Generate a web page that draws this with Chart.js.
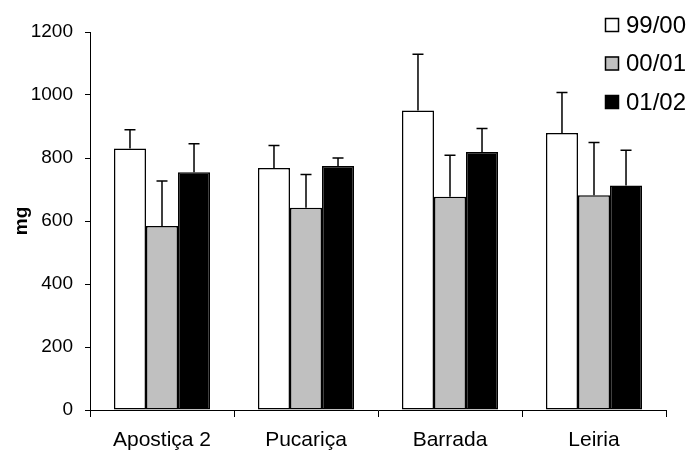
<!DOCTYPE html>
<html>
<head>
<meta charset="utf-8">
<script src="https://cdn.jsdelivr.net/npm/chart.js@4.4.1/dist/chart.umd.min.js"></script>
<style>
    html, body { margin: 0; padding: 0; background: #fff; }
    #wrap { width: 690px; height: 453px; position: relative; }
</style>
</head>
<body>
<div id="wrap"><canvas id="massChart"></canvas></div>
<script>
// Sites and seasons
const sites = ['Apostiça 2', 'Pucariça', 'Barrada', 'Leiria'];
const seasons = ['99/00', '00/01', '01/02'];

// Mean mass (mg) per site, one array per season
const mass9900 = [830, 768, 951, 879];
const mass0001 = [584, 642, 677, 682];
const mass0102 = [755, 775, 819, 713];

// Standard deviations (drawn as upper whiskers)
const sd9900 = [60, 72, 178, 129];
const sd0001 = [143, 106, 132, 167];
const sd0102 = [90, 25, 75, 112];

const yTicks = [0, 200, 400, 600, 800, 1000, 1200];

const FONT = "'Liberation Sans', Arial, sans-serif";
const fills = ['#ffffff', '#c0c0c0', '#000000'];

// Upper error whiskers with a small cap
const errorBars = {
    id: 'errorBars',
    afterDatasetsDraw(chart) {
        const ctx = chart.ctx;
        const yScale = chart.scales.y;
        ctx.save();
        ctx.strokeStyle = '#000';
        ctx.lineWidth = 1.5;
        chart.data.datasets.forEach((ds, di) => {
            const meta = chart.getDatasetMeta(di);
            meta.data.forEach((bar, i) => {
                const top = yScale.getPixelForValue(ds.data[i] + ds.sd[i]);
                ctx.beginPath();
                ctx.moveTo(bar.x, bar.y);
                ctx.lineTo(bar.x, top);
                ctx.moveTo(bar.x - 5.5, top);
                ctx.lineTo(bar.x + 5.5, top);
                ctx.stroke();
            });
        });
        ctx.restore();
    }
};

// Stacked legend in the top right corner
const cornerLegend = {
    id: 'cornerLegend',
    afterDraw(chart) {
        const ctx = chart.ctx;
        ctx.save();
        ctx.font = '24px ' + FONT;
        ctx.textBaseline = 'middle';
        chart.data.datasets.forEach((ds, i) => {
            const cy = 25 + i * 38.5;
            ctx.fillStyle = ds.backgroundColor;
            ctx.fillRect(605, cy - 7, 14, 14);
            ctx.strokeStyle = '#000';
            ctx.lineWidth = 1.5;
            ctx.strokeRect(605.5, cy - 6.5, 13, 13);
            ctx.fillStyle = '#000';
            ctx.fillText(ds.label, 626, cy + 1);
        });
        ctx.restore();
    }
};

const seriesData = [mass9900, mass0001, mass0102];
const seriesSd = [sd9900, sd0001, sd0102];

const massChart = new Chart(document.getElementById('massChart'), {
    type: 'bar',
    data: {
        labels: sites,
        datasets: seasons.map((s, i) => ({
            label: s,
            data: seriesData[i],
            sd: seriesSd[i],
            backgroundColor: fills[i],
            borderColor: '#000',
            borderWidth: 1.5,
            borderSkipped: false,
            categoryPercentage: 0.667,
            barPercentage: 1.0
        }))
    },
    options: {
        responsive: true,
        maintainAspectRatio: false,
        animation: false,
        layout: { padding: { left: 0, right: 24, top: 32, bottom: 0 } },
        plugins: {
            legend: { display: false },
            tooltip: { enabled: false }
        },
        scales: {
            x: {
                offset: true,
                grid: {
                    offset: true,
                    drawOnChartArea: false,
                    color: '#000',
                    tickLength: 7
                },
                border: { color: '#000', width: 1 },
                ticks: {
                    color: '#000',
                    padding: 11,
                    maxRotation: 0,
                    font: { family: FONT, size: 21 }
                },
                afterFit(scale) { scale.height = 43; }
            },
            y: {
                min: 0,
                max: 1200,
                afterBuildTicks(scale) {
                    scale.ticks = yTicks.map(v => ({ value: v }));
                },
                grid: {
                    drawOnChartArea: false,
                    color: '#000',
                    tickLength: 5
                },
                border: { color: '#000', width: 1 },
                ticks: {
                    color: '#000',
                    padding: 12,
                    font: { family: FONT, size: 19 },
                    callback: v => String(v)
                },
                title: {
                    display: true,
                    text: 'mg',
                    color: '#000',
                    padding: { top: 10, bottom: 0 },
                    font: { family: FONT, size: 19, weight: 'bold' }
                },
                afterFit(scale) { scale.width = 90; }
            }
        }
    },
    plugins: [errorBars, cornerLegend]
});
</script>
</body>
</html>
